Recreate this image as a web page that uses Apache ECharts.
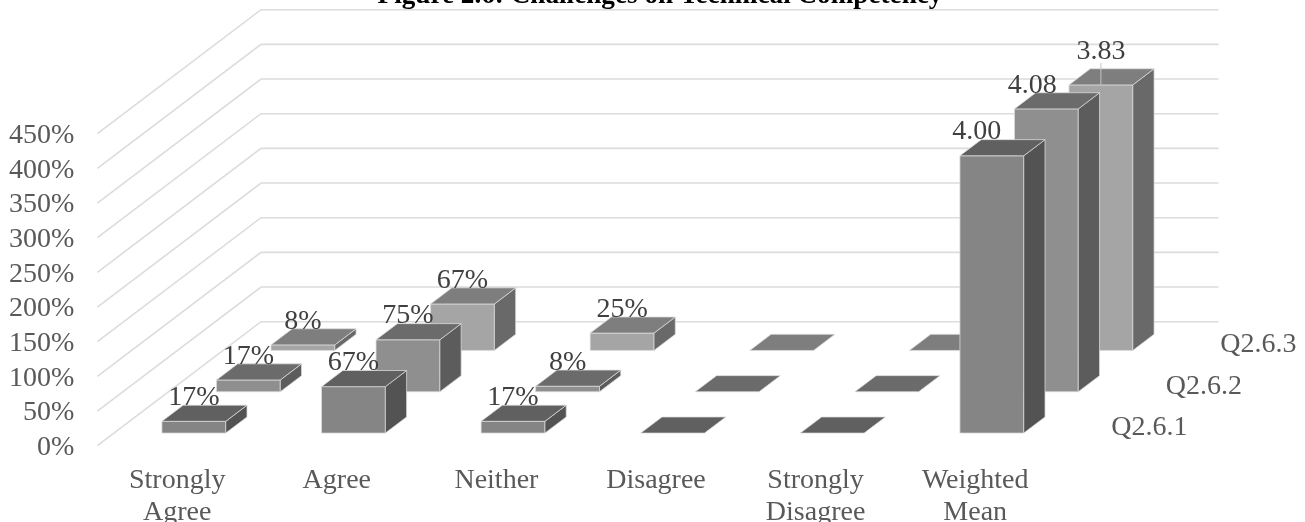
<!DOCTYPE html>
<html>
<head>
<meta charset="utf-8">
<style>html,body{margin:0;padding:0;background:#fff}#chart{width:1305px;height:522px}</style>
<script src="https://cdn.jsdelivr.net/npm/echarts@6/dist/echarts.min.js"></script>
</head>
<body>
<div id="chart"></div>
<script>
const categories = ['Strongly\nAgree', 'Agree', 'Neither', 'Disagree', 'Strongly\nDisagree', 'Weighted\nMean'];
const seriesNames = ['Q2.6.1', 'Q2.6.2', 'Q2.6.3'];
const q261 = [0.17, 0.67, 0.17, 0, 0, 4.00];
const q262 = [0.17, 0.75, 0.08, 0, 0, 4.08];
const q263 = [0.08, 0.67, 0.25, 0, 0, 3.83];
const wallTicks = [0, 0.5, 1, 1.5, 2, 2.5, 3, 3.5, 4, 4.5];

// Oblique projection: how far the back of the floor sits from the front plane.
const DEPTH_X = 163.6, DEPTH_Y = -124;
const BAR_WIDTH_RATIO = 0.4;
const BAR_DEPTH_RATIO = 0.39;      // share of one series slot along the depth axis
const GRID_COLOR = '#dcdcdc';
const EDGE_COLOR = 'rgba(222,222,222,0.75)';
const TEXT_COLOR = '#595959';
const FONT = '"Liberation Serif","Times New Roman",serif';
const LABEL_SIZE = 28;

const faceColors = [
  { front: '#858585', top: '#606060', side: '#535353' },
  { front: '#8f8f8f', top: '#6b6b6b', side: '#5c5c5c' },
  { front: '#a5a5a5', top: '#7e7e7e', side: '#696969' }
];
// The tall bars in the last category carry their labels off-centre.
const meanLabelShift = [[-15, 0], [-14, 0], [0, -10]];

const fmtPercent = v => Math.round(v * 100) + '%';
const values = [q261, q262, q263];

function poly(points, fill) {
  return {
    type: 'polygon',
    shape: { points },
    style: { fill, stroke: EDGE_COLOR, lineWidth: 1 }
  };
}

function renderWalls(params, api) {
  const v = api.value(0);
  const p = api.coord([0, v]);
  const band = api.size([1, 0])[0];
  const x0 = p[0] - band / 2;
  const n = categories.length;
  return {
    type: 'polyline',
    shape: { points: [[x0, p[1]], [x0 + DEPTH_X, p[1] + DEPTH_Y], [x0 + DEPTH_X + band * n, p[1] + DEPTH_Y]] },
    style: { fill: null, stroke: GRID_COLOR, lineWidth: 1.6 },
    silent: true
  };
}

function barGeometry(api, s, cat, v) {
  const base = api.coord([cat, 0]);
  const top = api.coord([cat, v]);
  const band = api.size([1, 0])[0];
  const slot = 1 / seriesNames.length;
  const start = (s + (1 - BAR_DEPTH_RATIO) / 2) * slot;
  const d = BAR_DEPTH_RATIO * slot;
  const w = band * BAR_WIDTH_RATIO;
  const l = base[0] - w / 2 + start * DEPTH_X;
  const r = l + w;
  const by = base[1] + start * DEPTH_Y;
  const ty = top[1] + start * DEPTH_Y;
  return { l, r, by, ty, dx: d * DEPTH_X, dy: d * DEPTH_Y };
}

function renderBar(s) {
  return function (params, api) {
    const cat = api.value(0), v = api.value(1);
    const g = barGeometry(api, s, cat, v);
    const c = faceColors[s];
    const children = [];
    if (v > 0) {
      children.push(poly([[g.l, g.by], [g.r, g.by], [g.r, g.ty], [g.l, g.ty]], c.front));
      children.push(poly([[g.r, g.by], [g.r + g.dx, g.by + g.dy], [g.r + g.dx, g.ty + g.dy], [g.r, g.ty]], c.side));
    }
    children.push(poly([[g.l, g.ty], [g.r, g.ty], [g.r + g.dx, g.ty + g.dy], [g.l + g.dx, g.ty + g.dy]], c.top));
    return { type: 'group', children };
  };
}

// Value labels go last so they sit over every bar.
function renderValueLabel(s) {
  return function (params, api) {
    const cat = api.value(0), v = api.value(1);
    if (!(v > 0)) return null;
    const g = barGeometry(api, s, cat, v);
    const isMean = cat === categories.length - 1;
    const shift = isMean ? meanLabelShift[s] : [0, 0];
    const cx = (g.l + g.r) / 2 + shift[0];
    const cy = g.ty + g.dy - 7.5 + shift[1];
    const children = [{
      type: 'text',
      style: {
        x: cx, y: cy, text: isMean ? v.toFixed(2) : fmtPercent(v),
        fill: '#404040', font: LABEL_SIZE + 'px ' + FONT, align: 'center', verticalAlign: 'middle'
      }
    }];
    // A label pushed away from its bar keeps a thin leader back to the front face.
    if (isMean && shift[1] !== 0) {
      children.push({
        type: 'line',
        shape: { x1: cx, y1: cy + 12, x2: cx, y2: g.ty },
        style: { stroke: '#c4c4c4', lineWidth: 1 }
      });
    }
    return { type: 'group', children };
  };
}

function renderDepthLabel(params, api) {
  const s = api.value(0);
  const p = api.coord([categories.length - 1, 0]);
  const band = api.size([1, 0])[0];
  const t = (s + 0.5) / seriesNames.length;
  return {
    type: 'text',
    style: {
      x: p[0] + band / 2 + t * DEPTH_X + 29,
      y: p[1] + t * DEPTH_Y + 2.5,
      text: seriesNames[s],
      fill: TEXT_COLOR, font: LABEL_SIZE + 'px ' + FONT, align: 'left', verticalAlign: 'middle'
    }
  };
}

const barSeries = [2, 1, 0].map(s => ({
  type: 'custom',
  name: seriesNames[s],
  coordinateSystem: 'cartesian2d',
  renderItem: renderBar(s),
  encode: { x: 0, y: 1 },
  data: values[s].map((v, i) => [i, v]),
  clip: false,
  z: 3 + (2 - s)
}));

const labelSeries = [2, 1, 0].map(s => ({
  type: 'custom',
  coordinateSystem: 'cartesian2d',
  renderItem: renderValueLabel(s),
  encode: { x: 0, y: 1 },
  data: values[s].map((v, i) => [i, v]),
  clip: false,
  silent: true,
  z: 10
}));

const chart = echarts.init(document.getElementById('chart'), null, { renderer: 'canvas' });
chart.setOption({
  animation: false,
  backgroundColor: '#ffffff',
  title: {
    text: 'Figure 2.6: Challenges on Technical Competency',
    left: 655, top: -23, textAlign: 'center',
    textStyle: { color: '#000', fontFamily: FONT, fontWeight: 'bold', fontSize: 27.2 }
  },
  grid: { left: 97.4, right: 250, top: 133.7, bottom: 76.3, containLabel: false, outerBoundsMode: 'none' },
  xAxis: {
    type: 'category',
    data: categories,
    axisLine: { show: false },
    axisTick: { show: false },
    axisLabel: { color: TEXT_COLOR, fontFamily: FONT, fontSize: LABEL_SIZE, lineHeight: 32.5, margin: 18.5, interval: 0 }
  },
  yAxis: {
    type: 'value',
    min: 0, max: 4.5, interval: 0.5,
    axisLine: { show: false },
    axisTick: { show: false },
    splitLine: { show: false },
    axisLabel: {
      color: TEXT_COLOR, fontFamily: FONT, fontSize: LABEL_SIZE, margin: 23,
      formatter: v => '{pct|' + fmtPercent(v) + '}',
      rich: { pct: { color: TEXT_COLOR, fontFamily: FONT, fontSize: LABEL_SIZE, padding: [4, 0, 0, 0] } }
    }
  },
  series: [
    {
      type: 'custom',
      coordinateSystem: 'cartesian2d',
      renderItem: renderWalls,
      encode: { y: 0 },
      data: wallTicks.map(v => [v]),
      clip: false,
      silent: true,
      z: 1
    },
    ...barSeries,
    ...labelSeries,
    {
      type: 'custom',
      coordinateSystem: 'cartesian2d',
      renderItem: renderDepthLabel,
      data: seriesNames.map((n, i) => [i]),
      clip: false,
      silent: true,
      z: 10
    }
  ]
});
</script>
</body>
</html>
